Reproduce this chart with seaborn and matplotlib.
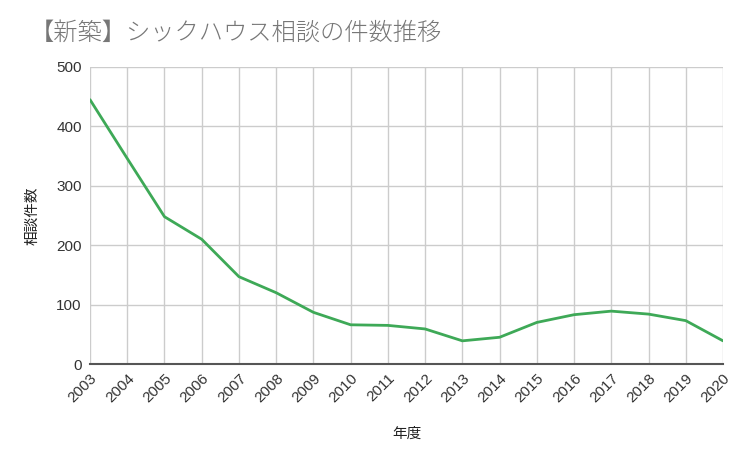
import matplotlib
matplotlib.use("Agg")
import matplotlib.pyplot as plt
import seaborn as sns
import pandas as pd

years = [str(y) for y in range(2003, 2021)]
counts = [445, 346, 248, 210, 147, 120, 87, 66, 65, 59, 39, 45, 70, 83, 89, 84, 73, 39]

title = "【新築】シックハウス相談の件数推移"
xlabel = "年度"
ylabel = "相談件数"
yticks = [0, 100, 200, 300, 400, 500]

sns.set_theme(style="white")
plt.rcParams['font.family'] = ['Liberation Sans', 'Noto Sans CJK JP', 'DejaVu Sans']

df = pd.DataFrame({"year": years, "count": counts})

fig = plt.figure(figsize=(7.46, 4.57), dpi=100)
ax = fig.add_axes([90/746, 1 - 364/457, (723-90)/746, (364-67)/457])

sns.lineplot(data=df, x="year", y="count", ax=ax, color="#3ea957", linewidth=2.0, sort=False)

ax.set_xlim(0, len(years) - 1)
ax.set_ylim(0, 500)
ax.set_yticks(yticks)
ax.set_yticklabels([str(v) for v in yticks])
ax.grid(True, color="#cccccc", linewidth=1.0)
ax.set_axisbelow(True)
for s in ["top", "right", "left"]:
    ax.spines[s].set_visible(False)
ax.spines["bottom"].set_color("#555555")
ax.spines["bottom"].set_linewidth(1.5)

ax.tick_params(axis="both", length=0, labelsize=11, colors="#333333", pad=6)
plt.setp(ax.get_xticklabels(), rotation=45, ha="right", rotation_mode="anchor")
ax.tick_params(axis="x", pad=5)

ax.set_xlabel(xlabel, fontsize=10.5, color="#222222", labelpad=16)
ax.set_ylabel(ylabel, fontsize=10.5, color="#222222", labelpad=12)

fig.text(30/746, 1 - 33/457, title, fontsize=17.5, color="#777777", va="center", ha="left",
         fontweight="light")

fig.savefig("out.png", dpi=100, facecolor="white")
